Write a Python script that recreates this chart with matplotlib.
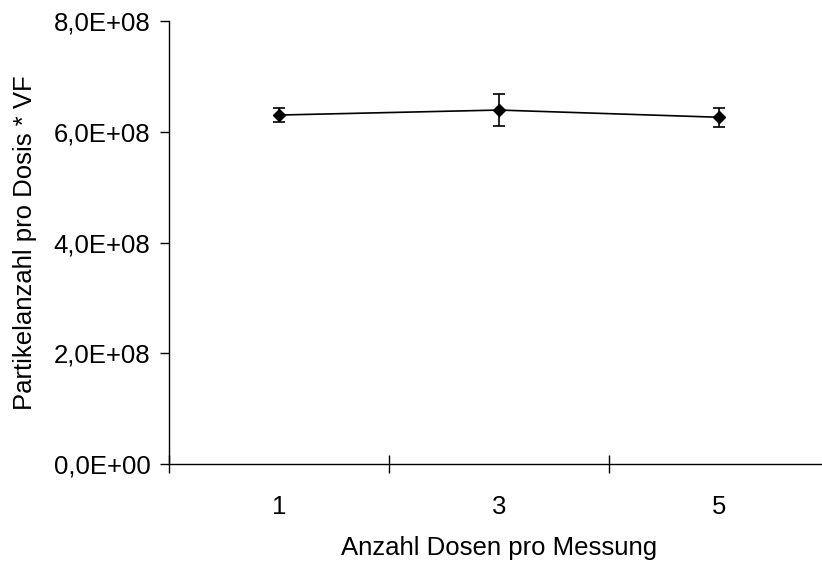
import matplotlib
matplotlib.use("Agg")
import matplotlib.pyplot as plt
from matplotlib.ticker import FuncFormatter, FixedLocator

categories = ["1", "3", "5"]
means = [6.30e8, 6.39e8, 6.26e8]
errors = [0.12e8, 0.285e8, 0.17e8]
y_ticks = [0, 2e8, 4e8, 6e8, 8e8]

plt.rcParams['font.family'] = ['Liberation Sans', 'DejaVu Sans']
FS = 18.5

fig = plt.figure(figsize=(8.22, 5.63), dpi=100)
ax = fig.add_axes([169/822, 1-464.3/563, 660/822, (464.3-20.8)/563])

x = list(range(len(categories)))
ax.errorbar(x, means, yerr=errors, color='black', linewidth=1.2,
            marker='D', markersize=6.5, capsize=4.5, capthick=1.2,
            elinewidth=1.2, ecolor='black', clip_on=False)

ax.set_xlim(-0.5, len(categories) - 0.5)
ax.set_ylim(0, 8e8)
ax.set_yticks(y_ticks)
ax.yaxis.set_major_formatter(FuncFormatter(lambda v, p: f"{v:.1E}".replace('.', ',')))

# category boundaries as major ticks, labels on minor ticks
ax.xaxis.set_major_locator(FixedLocator([i - 0.5 for i in range(len(categories) + 1)]))
ax.xaxis.set_major_formatter(FuncFormatter(lambda v, p: ""))
ax.xaxis.set_minor_locator(FixedLocator(x))
ax.set_xticklabels(categories, minor=True)
ax.tick_params(axis='x', which='major', direction='inout', length=12.7, width=1.0)
ax.tick_params(axis='x', which='minor', length=0, pad=22, labelsize=FS)
ax.tick_params(axis='y', direction='out', length=6.5, width=1.0, pad=7, labelsize=FS)

for s in ['top', 'right']:
    ax.spines[s].set_visible(False)
for s in ['left', 'bottom']:
    ax.spines[s].set_linewidth(1.0)

ax.set_xlabel("Anzahl Dosen pro Messung", fontsize=FS, labelpad=12)
ax.set_ylabel("Partikelanzahl pro Dosis * VF", fontsize=FS, labelpad=12)

fig.savefig("out.png", dpi=100)
